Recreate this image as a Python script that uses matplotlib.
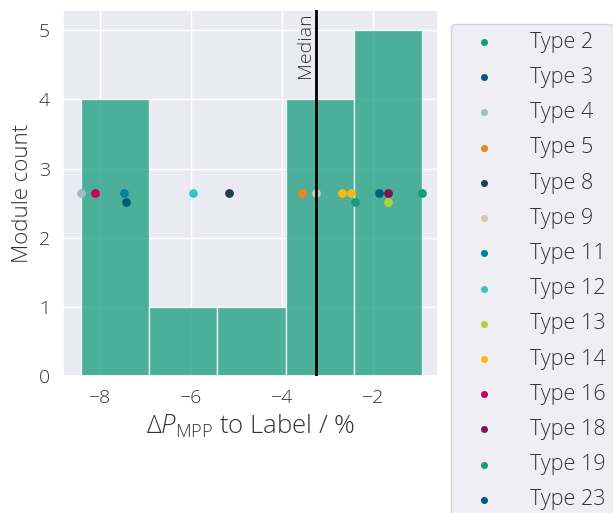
import matplotlib
matplotlib.use("Agg")
import matplotlib.pyplot as plt
import numpy as np
import seaborn as sns

# deviation of MPP power to label, one entry per module
delta_p = [-8.42, -8.10, -7.48, -7.44, -5.96, -5.17, -3.57, -3.25,
           -2.69, -2.48, -2.41, -1.88, -1.68, -1.67, -0.93]
module_type = ["Type 4", "Type 16", "Type 11", "Type 3", "Type 12", "Type 8",
               "Type 5", "Type 9", "Type 14", "Type 14", "Type 19", "Type 23",
               "Type 18", "Type 13", "Type 2"]
strip_y = [2.65, 2.65, 2.65, 2.52, 2.65, 2.65, 2.65, 2.65,
           2.65, 2.65, 2.52, 2.65, 2.65, 2.52, 2.65]

legend_types = ["Type 2", "Type 3", "Type 4", "Type 5", "Type 8", "Type 9",
                "Type 11", "Type 12", "Type 13", "Type 14", "Type 16",
                "Type 18", "Type 19", "Type 23"]
type_colors = ["#179c7d", "#005b7f", "#a6bbc8", "#f58220", "#1c3f52", "#d3c7ae",
               "#008598", "#39c1cd", "#b2d235", "#fdb913", "#c8005f",
               "#7c154d", "#179c7d", "#005b7f"]

sns.set_theme(style="darkgrid")
plt.rcParams["font.family"] = ["Open Sans", "DejaVu Sans"]
plt.rcParams["font.weight"] = "light"
plt.rcParams["axes.labelweight"] = "light"
plt.rcParams["mathtext.fontset"] = "custom"
plt.rcParams["mathtext.rm"] = "Open Sans:light"
plt.rcParams["mathtext.it"] = "Open Sans:italic:light"

fig = plt.figure(figsize=(6.13, 5.13), dpi=100)
ax = fig.add_axes([0.103, 0.267, 0.612, 0.713])

ax.hist(delta_p, bins=5, color="#179c7d", alpha=0.75, edgecolor="white", linewidth=1)

cmap = dict(zip(legend_types, type_colors))
for t in legend_types:
    xs = [x for x, m in zip(delta_p, module_type) if m == t]
    ys = [y for y, m in zip(strip_y, module_type) if m == t]
    ax.scatter(xs, ys, s=40, color=cmap[t], linewidth=0, zorder=3, label=t)

med = np.median(delta_p)
ax.axvline(med, color="black", linewidth=2, zorder=4)
ax.text(med - 0.04, 5.26, "Median", rotation=90, ha="right", va="top",
        fontsize=14, color="#333333")

ax.set_xlim(-8.81, -0.57)
ax.set_ylim(0, 5.29)
ax.set_xticks([-8, -6, -4, -2])
ax.set_yticks([0, 1, 2, 3, 4, 5])
ax.tick_params(labelsize=14, colors="#333333")
ax.set_xlabel("Δ$P_\\mathrm{MPP}$ to Label / %", fontsize=18.5, color="#333333",
              fontweight="light")
ax.set_ylabel("Module count", fontsize=16, color="#333333", fontweight="light")

leg = ax.legend(loc="upper left", bbox_to_anchor=(1.035, 0.962), fontsize=15.5,
                markerscale=0.8, labelspacing=0.66, handlelength=2.3,
                handletextpad=1.0, borderpad=0.35, frameon=True, borderaxespad=0)
leg.get_frame().set_facecolor("#eaeaf2")
leg.get_frame().set_edgecolor("#cccccc")
for txt in leg.get_texts():
    txt.set_color("#333333")

fig.savefig("out.png", dpi=100)
